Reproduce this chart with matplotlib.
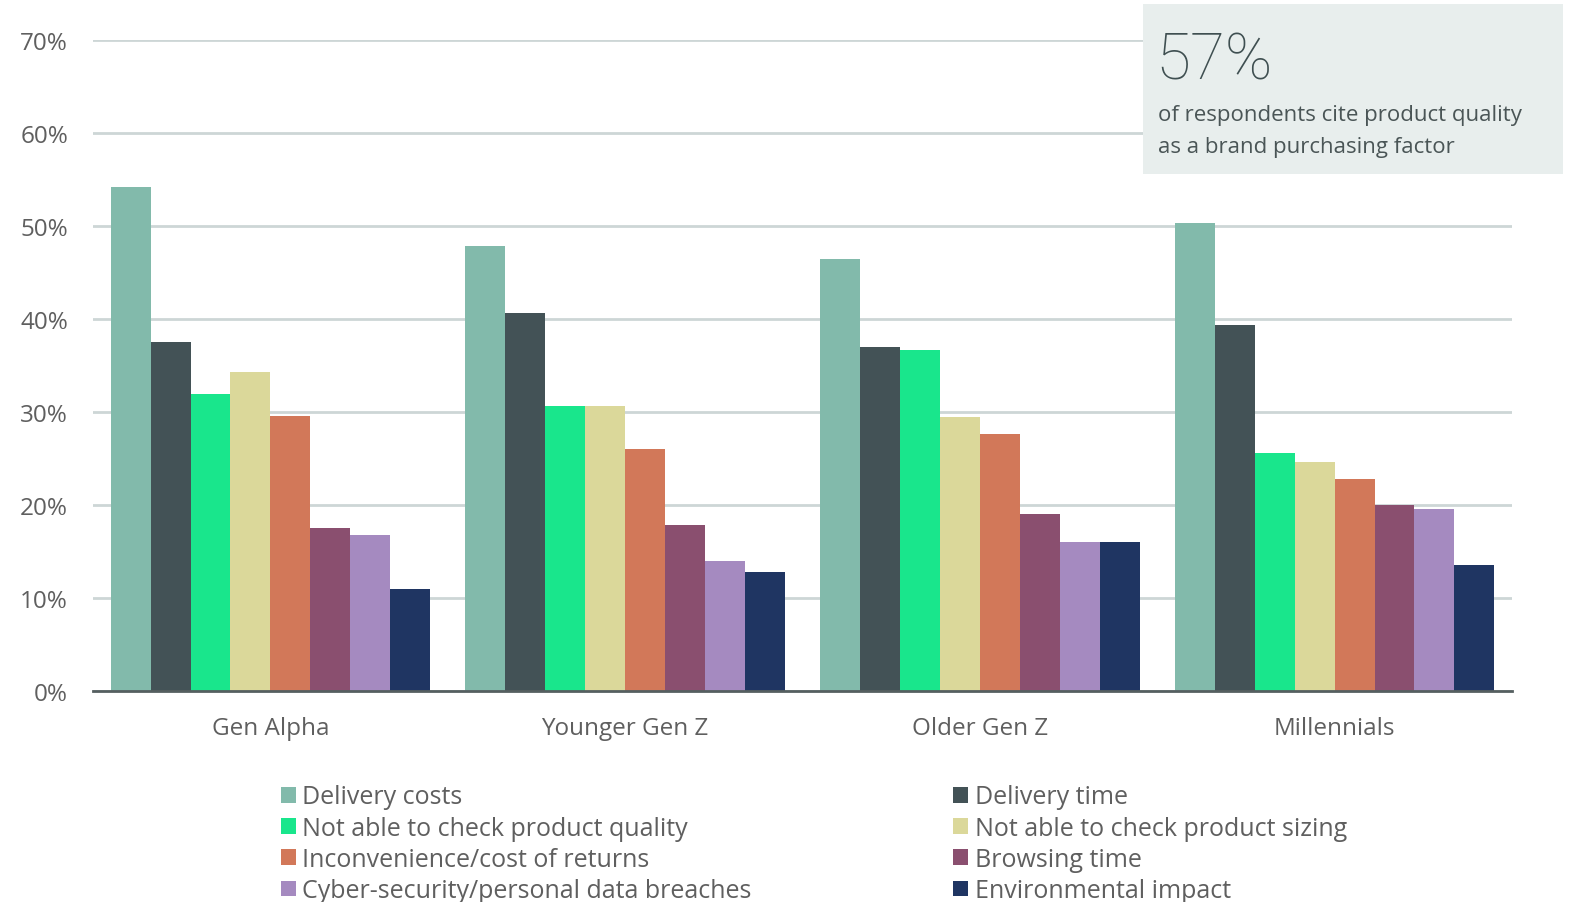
import numpy as np
import matplotlib.pyplot as plt
from matplotlib.patches import Rectangle, Patch

plt.rcParams['font.family'] = ['Open Sans', 'DejaVu Sans']

groups = ["Gen Alpha", "Younger Gen Z", "Older Gen Z", "Millennials"]
series = [
    "Delivery costs",
    "Delivery time",
    "Not able to check product quality",
    "Not able to check product sizing",
    "Inconvenience/cost of returns",
    "Browsing time",
    "Cyber-security/personal data breaches",
    "Environmental impact",
]
colors = ["#82BAAB", "#435256", "#19E68C", "#DBD89A",
          "#D27859", "#8A4F6F", "#A58AC0", "#1F3562"]

# percentage of respondents, one list per factor (Gen Alpha, Younger Gen Z, Older Gen Z, Millennials)
delivery_costs = [54.2, 47.8, 46.5, 50.3]
delivery_time = [37.5, 40.6, 37.0, 39.4]
check_quality = [31.9, 30.6, 36.7, 25.6]
check_sizing = [34.3, 30.6, 29.5, 24.6]
returns = [29.6, 26.0, 27.6, 22.8]
browsing_time = [17.5, 17.8, 19.0, 20.0]
cyber_security = [16.8, 14.0, 16.0, 19.6]
environmental = [11.0, 12.8, 16.0, 13.5]

values = [delivery_costs, delivery_time, check_quality, check_sizing,
          returns, browsing_time, cyber_security, environmental]

fig = plt.figure(figsize=(15.72, 9.03), dpi=100)
ax = fig.add_axes([93 / 1572, 1 - 692 / 903, (1512 - 93) / 1572, (692 - 41) / 903])

x = np.arange(len(groups))
w = 0.9 / len(series)
for i, (name, vals) in enumerate(zip(series, values)):
    ax.bar(x - 0.45 + w * (i + 0.5), vals, width=w, color=colors[i], label=name, zorder=3)

ax.set_xlim(-0.5, 3.5)
ax.set_ylim(0, 70)
ax.set_yticks(range(0, 71, 10))
ax.set_yticklabels([f"{t}%" for t in range(0, 71, 10)])
ax.set_xticks(x)
ax.set_xticklabels(groups)
ax.grid(axis='y', color="#CDD6D6", linewidth=2, zorder=0)
ax.tick_params(axis='both', length=0, labelsize=17.5, labelcolor="#5f5f5f")
ax.tick_params(axis='y', pad=18)
ax.tick_params(axis='x', pad=18)
for s in ["top", "right", "left"]:
    ax.spines[s].set_visible(False)
ax.spines["bottom"].set_color("#555F60")
ax.spines["bottom"].set_linewidth(2)
ax.spines["bottom"].set_zorder(4)

# legend in two columns under the chart
handles = [Patch(facecolor=c, edgecolor='none') for c in colors]
order = [0, 2, 4, 6, 1, 3, 5, 7]
leg = fig.legend([handles[i] for i in order], [series[i] for i in order],
                 ncol=2, loc='upper left', bbox_to_anchor=(258 / 1572, 1 - 763 / 903),
                 frameon=False, fontsize=18, handlelength=0.6, handleheight=0.6,
                 handletextpad=0.28, labelspacing=0.25, columnspacing=8.05,
                 labelcolor="#5f5f5f")

# callout box in the top right corner
fig.patches.append(Rectangle((1143 / 1572, 1 - 175 / 903), 420 / 1572, 170 / 903,
                             transform=fig.transFigure, facecolor="#E8EEED",
                             edgecolor='none', zorder=5))
fig.text(1155 / 1572, 1 - 80 / 903, "57%", fontsize=46, fontweight='light',
         family=['Roboto', 'DejaVu Sans'], color="#3F4F51", va='baseline', zorder=6)
fig.text(1158 / 1572, 1 - 121 / 903, "of respondents cite product quality",
         fontsize=16, color="#4A5556", va='baseline', zorder=6)
fig.text(1158 / 1572, 1 - 153 / 903, "as a brand purchasing factor",
         fontsize=16, color="#4A5556", va='baseline', zorder=6)

fig.savefig("out.png", dpi=100)
